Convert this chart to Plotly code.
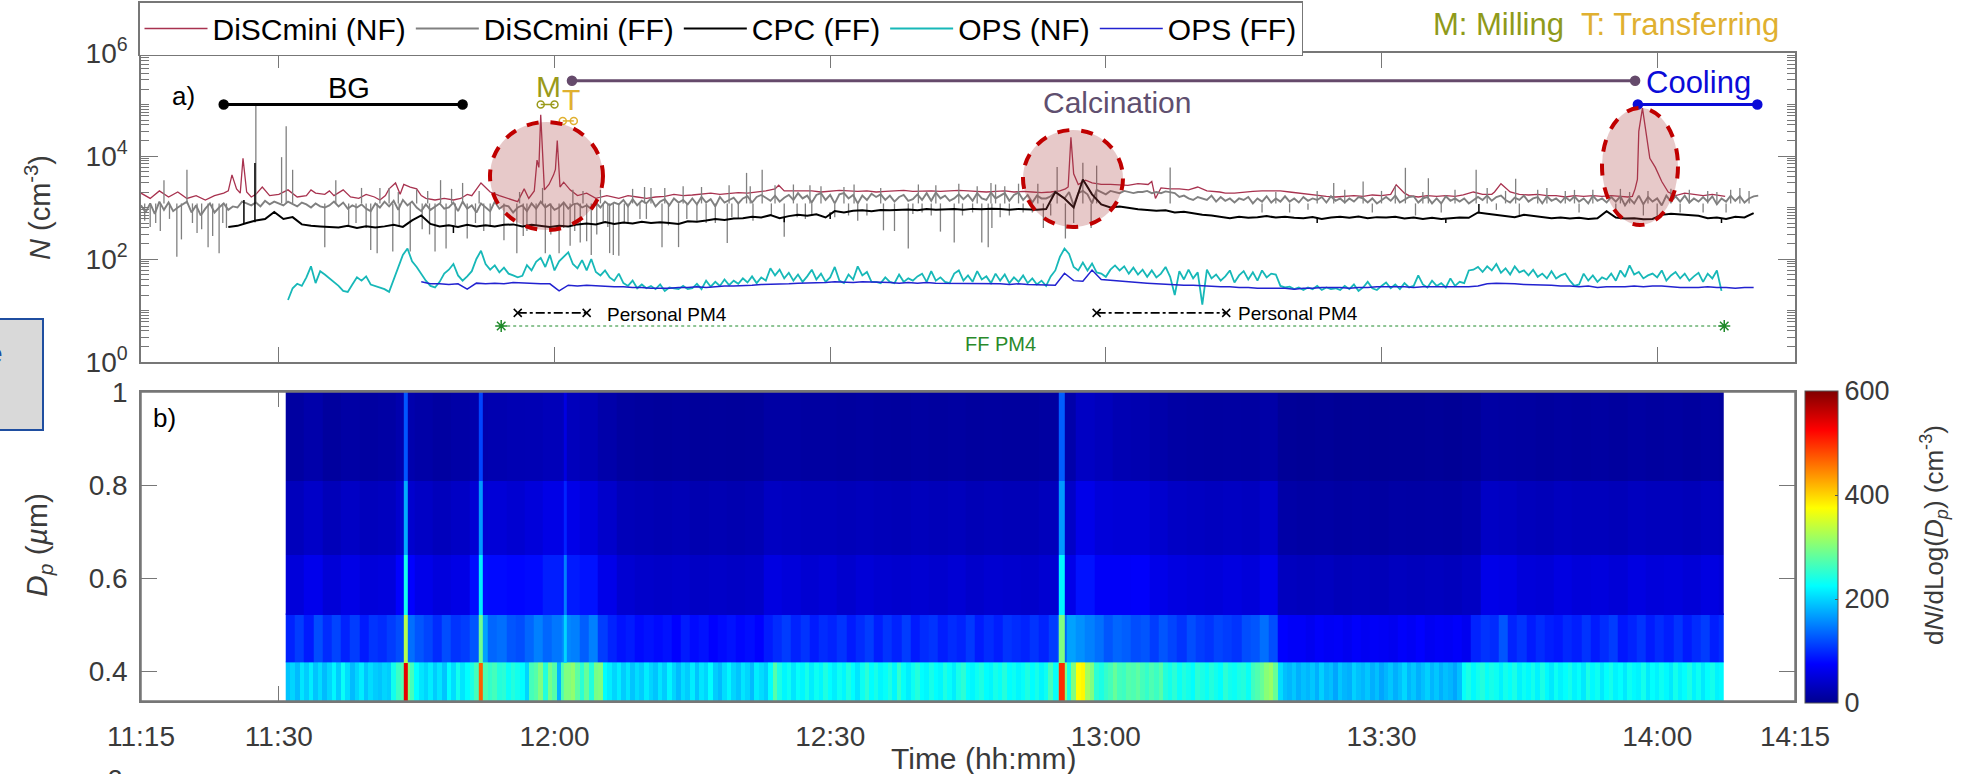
import plotly.graph_objects as go

W, H = 1983, 774
TICK_MIN = [0, 15, 45, 75, 105, 135, 165, 180]
TICK_TXT = ["11:15", "11:30", "12:00", "12:30", "13:00", "13:30", "14:00", "14:15"]

# All times are minutes after 11:15
disc_ff = [
1100,800,1200,750,1300,900,1250,850,1000,1150,1300,800,1100,700,950,1200,800,1000,1200,900,
1050,1000,1300,1200,1100,1250,1050,1350,1150,1300,1200,1100,1300,1150,1050,1250,1150,1000,1200,1050,
1000,1100,1300,1050,1250,950,1100,1000,1150,950,850,1200,1000,1300,1050,1350,900,1400,1100,1300,
1000,850,1150,900,1050,1200,950,1000,1250,850,1300,950,1100,800,1200,1000,850,1300,950,1100,
1050,800,1000,1100,850,1200,950,1300,1000,1150,900,1000,1250,950,1150,1200,1000,1100,950,1250,
1000,1300,1100,1250,1150,1400,1050,1450,1100,1350,1200,1500,1050,1300,1450,1100,1500,1250,1400,1150,
1500,1150,1600,1250,1450,1050,1600,1250,1400,1550,1200,1500,1650,1250,1600,1750,1550,1350,1700,1300,
1550,1750,1400,1900,1500,1700,1250,1750,1900,1400,1750,1200,1800,1900,1500,1750,1200,1700,1400,1850,
1600,1800,1400,1700,1300,1600,1750,1350,1450,1800,1400,1900,1350,1950,1500,1700,1350,1500,1800,1450,
1750,1350,1900,1500,1400,1950,1500,1700,1900,1350,1750,1950,1400,1750,1250,1700,1500,1500,1650,2000,
1700,1500,2000,1100,1900,2100,1800,1200,2200,2000,1800,2100,2000,1900,2100,2000,1900,2000,2000,2100,
1900,2000,1900,2050,2000,1900,1600,1700,1500,1400,1600,1500,1400,1700,1300,1600,1350,1500,1250,1500,
1400,1600,1200,1500,1300,1650,1250,1500,1300,1650,1300,1500,1250,1600,1350,1500,1400,1600,1250,1650,
1350,1500,1250,1500,1300,1600,1500,1250,1500,1200,1400,1600,1350,1700,1250,1400,1600,1650,1250,1500,
1600,1200,1500,1200,1650,1350,1500,1300,1500,1200,1400,1600,1400,1700,1350,1600,1700,1400,1250,1550,
1400,1700,1300,1500,1600,1200,1650,1350,1500,1250,1600,1350,1650,1300,1500,1200,1700,1350,1500,1250,
1600,1300,1650,1100,1500,1200,1700,1150,1600,1300,1500,1100,1700,1300,1650,1300,1700,1250,1500,1300,
1600,1300,1650,1150,1500,1300,1700,1350,1650,1250,1500,1650,1700]
ff_spike_t = [2.5,5,12.5,15.3,15.8,16.5,21.2,24,26,27,32.6,35,38.5,47,53.5,55.5,65.9,67.6,74,76.5,80.5,86.5,91,92.5,94,95.5,99.7,102.5,104,112,129.8,133,136.5,137.6,140.1,145.3,146.5,149.6,153,156,161,166.5,170.5,174,
1,1.6,3.9,5.6,6.6,7.3,8.5,9.3,20,25,25.7,27.4,29.3,32,33.2,35.5,38,39.5,40.9,42,44,45.5,46.7,47.8,48.5,49,50.3,51,51.4,52,53,54.3,56.7,58.5,60.5,62.5,63.8,65,70,73,75.5,78,79,80.8,82,83.5,85,87,88.5,90.5,91.5,92.2,92.6,94.5,96,98.2,100.6,101.5,103.4,122,125,127,134,138.7,141.5,147.5,150,156.5,160.5,163.5,165,167.5,170,172.5,
0.4,2.1,3.1,4.4,6.1,7.8,8.9,22.6,23.4,24.5,28.1,30.6,31.4,34.2,36.4,37.3,41.6,43,44.6,46,47.2,49.6,50.8,52.6,55,57.4,59.4,61.5,64.3,66.6,68.6,71.4,72.3,77,84,86,89.4,93.5,97,99,
28,30,31.2,33.8,36.8,41.2,43.7,48.1,50,54.8,57,59,61,64,66.3,69,71,72.8,77.6,84.6,89,93,97.6,123.5,128,131,135,139.5,143,148.5,152,155,158,162,164,168.5,171.5,173,175]
ff_spike_n = [3400,5400,100000,9500,38000,5400,3400,2400,2400,2400,3400,3000,2000,2200,2300,2400,4700,5400,2600,2500,2400,2700,2600,3000,2600,2900,6100,7400,6500,6000,3000,3200,2600,5900,3700,5400,2400,3600,2400,2200,2300,2300,2100,2400,
420,500,110,500,380,170,130,400,170,150,130,140,140,140,160,250,420,230,130,350,130,130,180,210,220,120,500,130,120,115,500,600,170,170,550,500,205,600,270,700,650,550,700,360,350,160,800,340,210,800,210,170,400,700,800,400,250,500,400,800,800,900,800,700,800,900,700,800,800,700,650,800,800,800,
550,350,600,240,320,280,500,450,500,400,420,380,300,450,500,350,280,450,300,400,350,300,420,500,600,450,600,500,650,550,700,650,600,700,750,700,700,650,800,700,
2000,2200,2100,2300,2100,2000,2400,2100,2200,2500,2400,2600,2500,2700,2600,2700,2800,2700,2800,2800,2900,2800,2900,2000,2100,2200,2100,2000,2200,2100,2200,2100,2200,2000,2100,2200,2000,2200,2100]
ff_spike_base = 1200

disc_nf_t = [0,1,2,3,4,5,6,7,8,9,9.5,9.9,10.4,10.8,11.1,11.5,12,12.5,13.2,14,15,16,17,18,18.5,19,20,20.5,21,22,22.8,23.7,24.5,25.4,26,26.6,27,27.7,28.2,28.6,29.3,30,30.5,31,32,33,34,34.8,35.5,36,37,37.5,38,39,40,41,41.7,42.2,42.8,43.1,43.3,43.5,43.9,44.4,44.9,45.1,45.3,45.6,46,46.7,47.5,48.5,49.5,50.7,
52,53,54,55,56,57,58,59,60,61,62,63,64,65,66,67,68,69,69.4,70,71,72,73,74,75,76,77,78,79,80,81,82,83,84,85,86,87,88,89,90,91,92,93,94,95,96,97,98,99,100,100.6,100.9,101.2,101.5,102,102.8,103.5,104.5,105.5,106.5,107.4,108.5,109.6,110,110.4,111,112,113,114,115,116,117.4,
118,119,120,121,122,123,124,125,126,127,128,129,130,131,132,133,134,135,136,136.6,137.5,138,139,140,141,142,143,143.9,145,146,147,147.3,148,149,150,151,152,153,154,155,156,157,158,159,160,161,161.8,162.3,162.6,162.85,163,163.4,163.8,164.2,164.8,165.5,166.2,167,168,169,170,171,172.4]
disc_nf = [1900,1500,2100,1600,2000,1500,1700,1400,1700,1900,2100,4300,2300,1900,9000,2000,1600,1800,2500,1700,1800,2200,1600,1700,2200,1900,1800,2100,1700,2200,1600,1500,1800,1600,1400,1700,2300,3000,1800,2800,2500,2300,1700,1500,1400,1500,1400,1500,1800,1700,3000,2400,2000,1700,1500,1300,2300,1500,2100,8300,6000,63000,2200,2800,4300,5500,20000,2500,3100,2200,1700,1900,1500,1700,
1500,1700,1600,1500,1600,1650,1800,1700,1750,1850,1900,1800,1900,1950,1900,2000,2100,2300,2700,2100,2100,2050,2100,2000,2100,2150,2100,2050,2100,2000,2050,2100,2150,2050,2100,2100,2050,2100,2150,2100,2050,2000,2050,2100,2000,2050,2000,1950,2000,2100,2300,2500,23000,4500,2800,3400,3000,2800,2800,2700,2700,2900,2800,3200,1500,2400,2300,2300,2200,2500,2100,2000,1900,
1900,2000,2050,2100,2100,2100,2000,1900,1800,1700,1650,1600,1650,1700,1650,1750,1700,1800,2750,1900,1700,1600,1700,1650,1700,1650,1750,2000,1800,1800,2000,2900,2000,1800,1750,1800,1700,1700,1600,1700,1650,1700,1650,1700,1650,1600,1650,2300,3500,30000,85000,28000,9000,6000,3200,2000,1700,1900,1800,1700,1800,1650,1700]

cpc_ff = [
420,440,500,560,600,820,600,650,470,440,
430,420,410,440,400,430,410,430,460,420,
560,700,480,430,450,420,460,430,450,430,
460,470,430,460,440,420,440,430,470,490,
470,520,480,510,490,530,500,520,500,480,
540,530,560,600,570,610,620,660,640,710,
620,680,720,690,740,640,850,800,860,880,
850,890,880,900,910,880,930,900,920,930,
900,940,920,950,930,900,940,920,900,930,
2000,1500,1000,3500,1800,1150,1000,1050,980,920,
890,860,880,800,830,780,720,700,650,620,
660,630,650,680,640,660,630,620,650,600,
640,660,630,670,620,650,640,660,610,640,
600,630,600,620,640,630,800,760,720,700,
650,720,680,640,620,640,610,630,600,620,
850,640,610,620,590,600,720,760,740,710,
690,620,640,600,660,640,780]
cpc_spike_t = [11.2,12.4,34,45.3,70,75,128,142,145.6,172]
cpc_spike_n = [1400,7300,320,360,520,600,500,500,1170,500]
cpc_spike_base = [480,520,430,440,640,800,630,620,800,620]

ops_nf = [
16,27,33,30,44,72,34,58,
50,42,36,30,24,23,32,44,38,46,32,30,28,26,23,40,68,120,160,90,
70,52,38,30,28,36,52,62,80,48,38,46,58,100,145,80,62,75,55,68,
52,48,44,47,76,60,88,105,70,120,60,90,110,135,80,66,95,60,100,56,
48,60,44,38,52,34,30,38,27,32,27,30,26,32,24,28,27,26,30,26,
27,33,26,38,29,36,30,40,31,38,33,42,35,46,34,44,38,66,48,62,
42,54,38,50,36,46,62,40,52,36,44,70,38,34,50,40,72,48,56,36,
36,34,44,36,34,50,36,42,38,46,52,36,58,38,44,36,34,52,60,38,
48,36,58,40,46,34,52,38,50,34,44,36,48,34,42,32,38,30,46,60,
110,160,125,70,60,85,60,82,55,52,45,62,75,60,72,52,68,50,62,45,
60,44,52,70,45,20,58,40,62,42,55,13,62,42,50,38,46,60,35,48,
58,40,55,38,60,44,52,50,30,28,29,26,28,25,28,26,30,25,28,26,
27,25,30,26,32,24,28,36,27,25,30,35,27,32,26,34,28,30,48,32,
28,38,30,34,28,42,30,36,34,60,62,70,56,72,60,80,54,66,50,72,
55,60,48,62,45,52,42,58,42,48,52,38,30,32,52,38,48,36,44,40,
52,38,60,45,75,50,56,42,48,52,44,60,38,48,56,42,52,38,46,54,
36,52,42,60,24]

ops_ff = [
36,33,33,32,33,26,34,33,34,33,
35,34,34,33,33,24,31,30,31,30,
30,29,29,28,28,27,27,27,28,28,
29,28,29,30,30,31,31,32,32,33,
33,34,34,35,35,36,35,35,36,36,
35,35,34,35,34,35,34,34,33,34,
33,34,33,33,32,33,32,32,31,31,
53,38,37,61,40,39,38,36,35,34,
33,33,32,31,31,30,30,29,29,28,
28,27,27,27,27,26,27,27,28,28,
28,27,28,28,29,29,29,29,28,29,
29,29,29,29,29,30,33,34,34,33,
32,32,31,31,30,30,29,30,28,29,
29,29,30,29,30,30,29,28,28,28,
29,28,28,27,28,28]

dp_edges = [0.337, 0.419, 0.522, 0.65, 0.808, 1.0]

band_1 = [
190,200,185,210,195,215,190,205,185,200,220,195,230,205,185,200,215,190,205,195,
190,200,195,235,260,270,300,265,225,210,200,215,195,210,190,225,205,235,210,225,
240,265,280,270,255,265,245,250,230,245,235,225,200,265,275,300,245,295,275,180,
270,300,310,280,250,285,245,295,300,225,215,200,215,195,210,190,205,195,215,200,
190,210,195,220,200,185,205,195,215,190,210,200,225,195,185,205,220,200,190,210,
200,185,215,205,195,225,275,240,220,232,210,228,220,238,215,232,220,242,225,215,
232,220,242,225,210,232,250,225,238,220,228,242,220,255,228,215,232,246,225,220,
238,225,220,242,228,215,238,250,225,220,232,242,225,220,238,228,246,225,232,220,
228,242,225,238,220,232,265,228,246,300,235,300,375,380,320,300,250,240,255,265,
285,265,260,275,270,280,265,255,270,260,275,245,235,250,230,245,235,225,250,240,
230,245,235,225,250,235,230,240,245,230,262,272,285,305,315,285,205,188,182,192,
178,188,182,192,178,198,182,188,172,192,182,178,198,188,182,192,178,188,172,182,
192,178,188,202,182,192,178,188,198,182,192,178,188,182,172,188,228,240,222,235,
245,228,238,232,218,236,226,240,218,232,222,236,218,240,222,212,232,218,226,236,
218,228,212,240,222,232,212,226,236,218,226,212,232,222,218,236,212,226,218,232,
222,212,236,218,226,240,218,232,212,226,236,218,222]
band_2 = [
95,110,90,120,100,115,95,110,90,105,
100,110,120,140,125,115,100,120,105,110,
125,170,135,140,125,120,135,150,135,145,
155,150,130,150,110,95,85,90,80,85,
80,85,75,90,80,85,75,80,85,78,
82,75,90,100,110,95,105,90,100,95,
105,90,100,110,92,105,95,110,90,100,
105,92,100,95,108,90,100,92,105,100,
95,105,95,110,135,170,160,150,140,125,
135,130,120,125,110,125,115,105,120,110,
105,115,110,105,120,125,140,120,75,70,
70,65,72,68,70,65,72,66,70,68,
65,72,68,75,66,70,68,72,65,95,
105,100,125,95,105,90,100,92,88,98,
92,105,90,100,110,88,95,105,90,100,
92,105,90,100,110,92,100]
band_3 = [50,62,48,58,50,52,75,60,52,58,82,80,78,80,92,90,85,60,45,40,38,40,36,38,36,38,55,50,45,48,42,48,44,42,45,42,46,40,44,42,40,45,60,85,70,70,72,60,55,52,50,54,50,62,32,30,32,28,30,28,32,30,32,30,35,60,58,50,48,55,50,52,48,55,50,52,48,55,50]
band_4 = [30,38,28,36,30,32,42,36,30,36,46,48,44,50,58,60,52,40,28,26,24,26,22,24,22,24,34,32,30,30,28,30,28,27,30,28,30,26,28,27,26,30,38,60,50,48,48,42,36,34,32,34,32,40,16,14,15,13,14,12,15,14,15,14,18,36,34,30,28,32,30,30,28,32,30,30,28,32,30]
band_5 = [12,18,10,15,12,14,20,16,12,16,20,22,24,25,28,30,26,18,12,10,9,10,8,9,8,9,14,14,12,12,11,12,11,10,12,11,12,10,11,10,10,12,18,35,30,24,22,18,14,13,12,13,12,16,6,5,6,4,5,4,5,5,6,5,7,14,13,12,10,12,11,12,10,13,11,12,10,13,11]
event_t = [28.6, 29.0, 36.8, 37.2, 46.0, 46.3, 99.9, 100.5]
event_z = [
    [540, None, 470, None, 300, None, 500],
    [330, None, 290, None, 200, None, 300],
    [235, None, 215, None, 150, None, 220],
    [175, None, 165, None, 95, None, 165],
    [125, None, 115, None, 55, None, 130],
]
jet = [[0, "#00008f"], [0.125, "#0000ff"], [0.375, "#00ffff"], [0.625, "#ffff00"], [0.875, "#ff0000"], [1, "#800000"]]

bg_t, bg_n = [9, 35], [1e5, 1e5]
calc_t, calc_n = [46.9, 162.6], [2.9e5, 2.9e5]
cool_t, cool_n = [162.9, 175.9], [1e5, 1e5]
mill_t, mill_n = [43.5, 45], [1e5, 1e5]
trans_t, trans_n = [45.9, 47.1], [4.8e4, 4.8e4]
pm_a_t, pm_b_t, pm_n = [41, 48.5], [104, 118.1], [9, 9]
ff_pm_t, ff_pm_n = [39.2, 172.3], [5, 5]

def px(x): return x / W
def py(y): return 1 - y / H
FONT = "Liberation Sans, Arial, sans-serif"
AX = "#777777"
TXT = "#3a3a3a"

fig = go.Figure()
def line(name, t, v, color, w):
    fig.add_trace(go.Scatter(x=t, y=v, mode="lines", name=name, line=dict(color=color, width=w)))
def spikes(t, v, base, color, w):
    xs, ys = [], []
    for i, (a, b) in enumerate(zip(t, v)):
        lvl = base[i] if isinstance(base, list) else base
        xs += [a, a, None]
        ys += [lvl, b, None]
    fig.add_trace(go.Scatter(x=xs, y=ys, mode="lines", showlegend=False, line=dict(color=color, width=w)))

line("DiSCmini (NF)", disc_nf_t, disc_nf, "#a8324f", 1.3)
line("DiSCmini (FF)", [i * 0.5 for i in range(len(disc_ff))], disc_ff, "#808080", 1.9)
spikes(ff_spike_t, ff_spike_n, ff_spike_base, "#808080", 1.3)
line("CPC (FF)", [9.5 + i for i in range(len(cpc_ff))], cpc_ff, "#000000", 2)
spikes(cpc_spike_t, cpc_spike_n, cpc_spike_base, "#000000", 1.5)
line("OPS (NF)", [16 + i * 0.5 for i in range(len(ops_nf))], ops_nf, "#17b8b8", 1.8)
line("OPS (FF)", [30.5 + i for i in range(len(ops_ff))], ops_ff, "#2222d0", 1.5)

def seg(t, n, color, w=3, sym="circle", size=9, dash="solid"):
    fig.add_trace(go.Scatter(x=t, y=n, mode="lines+markers", showlegend=False,
                             line=dict(color=color, width=w, dash=dash),
                             marker=dict(color=color, size=size, symbol=sym, line=dict(color=color, width=1.5))))
seg(bg_t, bg_n, "#000000")
seg(calc_t, calc_n, "#654a6b")
seg(cool_t, cool_n, "#0b0bd8")
seg(mill_t, mill_n, "#9a9a1a", 1.5, "circle-open", 7)
seg(trans_t, trans_n, "#e0b030", 1.5, "circle-open", 7)
seg(pm_a_t, pm_n, "#000000", 1.6, "x-thin-open", 8, "dashdot")
seg(pm_b_t, pm_n, "#000000", 1.6, "x-thin-open", 8, "dashdot")
seg(ff_pm_t, ff_pm_n, "#1f8a2a", 1, "asterisk-open", 10, "dot")

def edges(start, step, n):
    return [start + i * step for i in range(n)] + [172.25]
fig.add_trace(go.Heatmap(x=edges(15.75, 0.5, len(band_1)), y=[dp_edges[0], dp_edges[1] + 0.003], z=[band_1],
                         coloraxis="coloraxis", xaxis="x2", yaxis="y2"))
fig.add_trace(go.Heatmap(x=edges(15.75, 1, len(band_2)), y=[dp_edges[1], dp_edges[2] + 0.003], z=[band_2],
                         coloraxis="coloraxis", xaxis="x2", yaxis="y2"))
fig.add_trace(go.Heatmap(x=edges(15.75, 2, len(band_3)), y=dp_edges[2:], z=[band_3, band_4, band_5],
                         coloraxis="coloraxis", xaxis="x2", yaxis="y2"))
fig.add_trace(go.Heatmap(x=event_t, y=dp_edges, z=event_z, coloraxis="coloraxis", xaxis="x2", yaxis="y2", hoverongaps=False))

minor_vals = [m * 10 ** k for k in range(6) for m in (2, 3, 4, 5, 6, 7, 8, 9)] + [10, 1000, 100000]

shapes = []
for x0, x1, y0, y1 in [(490, 603, 122, 230), (1023, 1123, 130, 227), (1602, 1678, 108, 225)]:
    shapes.append(dict(type="circle", xref="paper", yref="paper", x0=px(x0), x1=px(x1), y0=py(y1), y1=py(y0),
                       fillcolor="rgba(170,60,60,0.28)", line=dict(color="#c00000", width=4, dash="dash")))
shapes.append(dict(type="rect", xref="paper", yref="paper", x0=px(141), x1=px(1795), y0=py(701), y1=py(392),
                   line=dict(color=AX, width=1.5)))
shapes.append(dict(type="rect", xref="paper", yref="paper", x0=px(-3), x1=px(43), y0=py(430), y1=py(319),
                   fillcolor="#d9d9d9", line=dict(color="#1f4ea0", width=2), layer="below"))

def note(text, x, y, size=28, color="#000000", rot=0, xa="center"):
    return dict(text=text, x=px(x), y=py(y), xref="paper", yref="paper", showarrow=False, xanchor=xa, yanchor="middle",
                font=dict(size=size, color=color, family=FONT), textangle=rot)
annots = [
    note("a)", 183, 96, 26), note("b)", 164, 418, 26),
    note("BG", 349, 88, 29),
    note("M", 548, 87, 30, "#9a9a1a"), note("T", 571, 99, 30, "#e0b030"),
    note("Calcination", 1117, 103, 30, "#5f4f6f"),
    note("Cooling", 1698, 82, 31, "#0b0bd8"),
    note("M: Milling", 1431, 25, 31, "#8f9a1a", xa="left"),
    note("T: Transferring", 1579, 25, 31, "#e0b030", xa="left"),
    note("Personal PM4", 605, 314, 19, xa="left"),
    note("Personal PM4", 1236, 313, 19, xa="left"),
    note("FF PM4", 1000, 344, 20, "#2a8a2a"),
    note("<i>N</i> (cm<sup>-3</sup>)", 38, 208, 29, TXT, -90),
    note("<i>D<sub>p</sub></i> (<i>µ</i>m)", 38, 545, 30, TXT, -90),
    note("d<i>N</i>/dLog(<i>D<sub>p</sub></i>) (cm<sup>-3</sup>)", 1934, 535, 26, TXT, -90),
    note("Time (hh:mm)", 984, 758, 30, TXT),
    note("e", 5, 353, 28, "#1f4ea0", xa="right"),
    note("3", 115, 779, 26, TXT),
]

axis = dict(showline=True, linecolor=AX, linewidth=1.5, mirror="ticks", ticks="inside", tickcolor=AX, showgrid=False, zeroline=False)
fig.update_layout(
    width=W, height=H, margin=dict(l=0, r=0, t=0, b=0, autoexpand=False),
    paper_bgcolor="#ffffff", plot_bgcolor="#ffffff",
    font=dict(family=FONT, size=28, color=TXT),
    xaxis=dict(domain=[px(141), px(1795)], range=[0, 180], tickvals=TICK_MIN, ticktext=TICK_TXT, showticklabels=False,
               ticklen=15, anchor="y", **axis),
    yaxis=dict(domain=[py(362), py(53)], type="log", range=[0, 6], tickvals=[1, 100, 10000, 1000000],
               ticktext=["10<sup>0</sup>", "10<sup>2</sup>", "10<sup>4</sup>", "10<sup>6</sup>"], ticklen=17,
               minor=dict(ticks="inside", ticklen=8, tickwidth=1, tickcolor=AX, tickmode="array", tickvals=minor_vals),
               ticklabelstandoff=6, anchor="x", **axis),
    xaxis2=dict(domain=[px(141), px(1795)], range=[0, 180], tickvals=TICK_MIN, ticktext=TICK_TXT, ticklen=15,
                layer="below traces", ticklabelstandoff=10, anchor="y2", **axis),
    yaxis2=dict(domain=[py(701), py(392)], range=[0.337, 1], tickvals=[0.4, 0.6, 0.8, 1], ticktext=["0.4", "0.6", "0.8", "1"],
                ticklen=16, layer="below traces", ticklabelstandoff=6, anchor="x2", **axis),
    coloraxis=dict(colorscale=jet, cmin=0, cmax=600,
                   colorbar=dict(x=px(1805), xanchor="left", y=py(391), yanchor="top", lenmode="pixels", len=312,
                                 thicknessmode="pixels", thickness=33, xpad=0, ypad=0, tickvals=[0, 200, 400, 600],
                                 ticks="inside", ticklen=3, tickcolor="#555555", outlinecolor="#555555", outlinewidth=1,
                                 tickfont=dict(size=27, color=TXT, family=FONT))),
    legend=dict(orientation="h", x=px(138), xanchor="left", y=py(1), yanchor="top", bgcolor="#ffffff",
                bordercolor=AX, borderwidth=1.5, itemwidth=63, font=dict(size=30, color="#000000", family=FONT),
                itemclick=False, itemdoubleclick=False, tracegroupgap=0),
    shapes=shapes, annotations=annots,
)
fig.write_html("out.html", config={"displayModeBar": False},
               post_script="document.body.style.margin='0';document.documentElement.style.overflow='hidden';")
